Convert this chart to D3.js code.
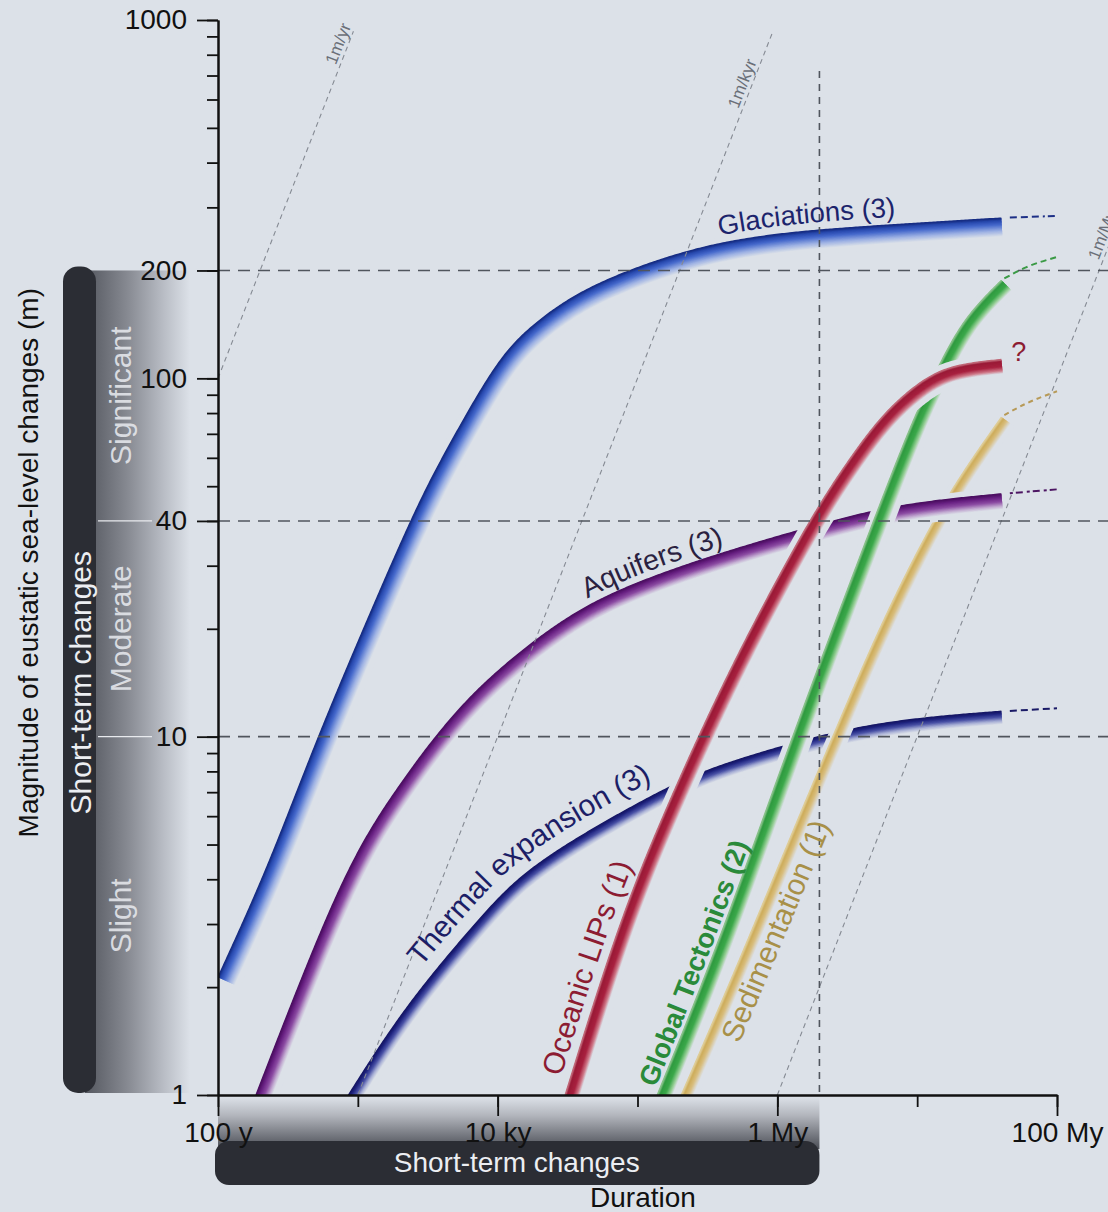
<!DOCTYPE html>
<html>
<head>
<meta charset="utf-8">
<title>Magnitude and duration of eustatic sea-level changes</title>
<script src="https://cdn.jsdelivr.net/npm/d3@7/dist/d3.min.js"></script>
<style>
  html, body { margin: 0; padding: 0; background: #dce1e8; }
  svg { display: block; font-family: "Liberation Sans", Arial, Helvetica, sans-serif; }
</style>
</head>
<body>
<svg id="chart" width="1108" height="1212"></svg>
<script>
// [duration (years), magnitude (m)] along the upper edge of each band
const glaciations = [[100, 2.13], [228, 4.3], [494, 9.6], [1327, 23.8], [2786, 46.1], [4800, 68.2], [9900, 112], [17050, 140], [43600, 182], [226000, 229], [671000, 248], [2.02e6, 261], [4.0e7, 280]];
const aquifers = [[187, 1.0], [519, 2.79], [1054, 5.1], [2176, 7.7], [3566, 10.0], [7480, 14.0], [26600, 20.9], [75100, 26.0], [347000, 32.1], [1.8e6, 38.7], [7.2e6, 44.6], [4.0e7, 47.6]];
const thermalExpansion = [[851, 1.0], [2176, 1.78], [7240, 3.09], [14450, 4.14], [43600, 5.46], [152400, 7.14], [315000, 8.13], [997000, 9.36], [3.32e6, 10.6], [1.1e7, 11.35], [4.0e7, 11.8]];
const oceanicLIPs = [[30300, 1.0], [75100, 3.14], [162800, 6.41], [266900, 9.88], [541900, 17.7], [1.66e6, 40], [3.16e6, 58.6], [5.44e6, 78.2], [9.36e6, 95.2], [1.64e7, 109], [4.0e7, 113]];
const globalTectonics = [[1.38e5, 1.0], [3.9e5, 2.71], [1.24e6, 9.79], [4.84e6, 40], [9.36e6, 77.5], [1.46e7, 111], [2.2e7, 149], [4.0e7, 188]];
const sedimentation = [[2.05e5, 1.0], [5.15e5, 2.29], [1.39e6, 5.86], [2.59e6, 10.4], [5.43e6, 20.5], [1.24e7, 39], [2.2e7, 56.2], [4.0e7, 78]];

// Speculative continuation beyond ~40 My (dashed)
const glaciationsTrend = [[4.6e7, 281], [1e8, 284]];
const aquifersTrend = [[4.6e7, 47.8], [1e8, 49]];
const thermalTrend = [[4.6e7, 11.8], [1e8, 12.0]];
const tectonicsTrend = [[4.2e7, 190], [6.0e7, 204], [1e8, 218]];
const sedimentationTrend = [[4.2e7, 79], [6.0e7, 85], [1e8, 92]];

// Constant-rate reference lines (m per year)
const rates = [1, 1e-3, 1e-6];
const rateLabels = ["1m/yr", "1m/kyr", "1m/Myr"];
const rateLabelMagnitude = [840, 650, 250];

// Thresholds of the short-term domain
const guideMagnitudes = [10, 40, 200];
const guideDuration = 2e6;

// Axis ticks
const yTickValues = [1, 10, 40, 100, 200, 1000];
const xTickValues = [1e2, 1e4, 1e6, 1e8];
const xTickLabels = ["100 y", "10 ky", "1 My", "100 My"];

// Severity classes on the magnitude axis: [label, lower m, upper m]
const severityBands = [["Significant", 40, 200], ["Moderate", 10, 40], ["Slight", 1, 10]];

const BG = "#dce1e8";
const svg = d3.select("#chart");
const defs = svg.append("defs");

const x = d3.scaleLog().domain([1e2, 1e8]).range([218, 1057]);
const y = d3.scaleLog().domain([1, 1000]).range([1095, 20]);

svg.append("rect").attr("width", 1108).attr("height", 1212).attr("fill", BG);

defs.append("clipPath").attr("id", "plot-clip")
  .append("rect").attr("x", x(1e2)).attr("y", 0)
  .attr("width", 1108 - x(1e2)).attr("height", y(1));

// ---- "Short-term changes" bar along the magnitude axis
const gRight = defs.append("linearGradient").attr("id", "fade-right")
  .attr("x1", 0).attr("x2", 1).attr("y1", 0).attr("y2", 0);
[[0, "#54575f"], [0.4, "#868991"], [0.75, "#b9bdc5"], [1, BG]].forEach(s =>
  gRight.append("stop").attr("offset", s[0]).attr("stop-color", s[1]));
svg.append("rect").attr("x", 85).attr("y", y(200))
  .attr("width", 105).attr("height", y(1) - y(200) - 2)
  .attr("fill", "url(#fade-right)");
svg.append("rect").attr("x", 63).attr("y", y(200) - 4)
  .attr("width", 33).attr("height", y(1) - y(200) + 2)
  .attr("rx", 15).attr("fill", "#2b2d34");

svg.append("text")
  .attr("transform", `translate(80,${(y(200) + y(1)) / 2}) rotate(-90)`)
  .attr("text-anchor", "middle").attr("dominant-baseline", "central")
  .attr("font-size", 30).attr("fill", "#eceef2").text("Short-term changes");

severityBands.forEach(([label, lo, hi]) => {
  const cy = y(Math.sqrt(lo * hi));
  svg.append("text")
    .attr("transform", `translate(120,${cy}) rotate(-90)`)
    .attr("text-anchor", "middle").attr("dominant-baseline", "central")
    .attr("font-size", 30).attr("fill", "#e3e5ea").attr("fill-opacity", 0.92)
    .text(label);
});
[40, 10].forEach(m => svg.append("line")
  .attr("x1", 98).attr("x2", 152).attr("y1", y(m)).attr("y2", y(m))
  .attr("stroke", "#e8eaee").attr("stroke-width", 1.2));

// ---- "Short-term changes" bar along the duration axis
const gDown = defs.append("linearGradient").attr("id", "fade-down")
  .attr("x1", 0).attr("x2", 0).attr("y1", 0).attr("y2", 1);
[[0, BG], [0.35, "#b3b6bd"], [1, "#4b4e56"]].forEach(s =>
  gDown.append("stop").attr("offset", s[0]).attr("stop-color", s[1]));
svg.append("rect").attr("x", x(1e2)).attr("y", y(1) + 2)
  .attr("width", x(guideDuration) - x(1e2)).attr("height", 52)
  .attr("fill", "url(#fade-down)");
svg.append("rect").attr("x", x(1e2) - 3).attr("y", 1141)
  .attr("width", x(guideDuration) - x(1e2) + 3).attr("height", 44)
  .attr("rx", 14).attr("fill", "#2b2d34");
svg.append("text").attr("x", (x(1e2) + x(guideDuration)) / 2 - 2).attr("y", 1172)
  .attr("text-anchor", "middle").attr("font-size", 28).attr("fill", "#eceef2")
  .text("Short-term changes");

// ---- Shaded bands: sampled along the curve and offset along its normal
function samplePath(pts) {
  const tmp = svg.append("path").attr("d", d3.line().curve(d3.curveBasis)(pts));
  const node = tmp.node(), L = node.getTotalLength();
  const n = Math.max(2, Math.ceil(L / 2));
  const s = d3.range(n + 1).map(i => {
    const p = node.getPointAtLength(L * i / n);
    return [p.x, p.y];
  });
  tmp.remove();
  return s;
}
function normals(s) {
  return s.map((p, i) => {
    const a = s[Math.max(0, i - 2)], b = s[Math.min(s.length - 1, i + 2)];
    const dx = b[0] - a[0], dy = b[1] - a[1];
    const len = Math.hypot(dx, dy) || 1;
    return [-dy / len, dx / len];
  });
}
function offset(s, nrm, k) {
  return s.map((p, i) => [p[0] + nrm[i][0] * k, p[1] + nrm[i][1] * k]);
}

const ribbonStyles = {
  thermal:     { width: 13, gap: 6, stops: [[0, "#141461"], [0.18, "#1f2480"], [0.45, "#4a52a6"], [0.75, "#a9b0d6"], [1, BG]] },
  sed:         { width: 11, gap: 5, stops: [[0, "#e0cf9c"], [0.2, "#cdac5a"], [0.55, "#d8bd7c"], [1, BG]] },
  aquifers:    { width: 15, gap: 6, stops: [[0, "#4c0f62"], [0.2, "#682082"], [0.5, "#8b4ba2"], [0.8, "#c3acd2"], [1, BG]] },
  tectonics:   { width: 14, gap: 6, stops: [[0, "#8fc48f"], [0.15, "#2f9a40"], [0.5, "#3ba84a"], [0.8, "#98cf98"], [1, BG]] },
  lips:        { width: 14, gap: 6, stops: [[0, "#c4707f"], [0.12, "#991a37"], [0.5, "#a8213f"], [0.8, "#cf7a8a"], [1, BG]] },
  glaciations: { width: 18, gap: 6, stops: [[0, "#172d84"], [0.12, "#2748ad"], [0.35, "#4669cc"], [0.7, "#9fb3e4"], [1, BG]] }
};

const plot = svg.append("g").attr("clip-path", "url(#plot-clip)");
function drawRibbon(data, st) {
  const s = samplePath(data.map(d => [x(d[0]), y(d[1])]));
  const nrm = normals(s);
  const line = d3.line();
  plot.append("path").attr("d", line(offset(s, nrm, st.width / 2)))
    .attr("fill", "none").attr("stroke", BG)
    .attr("stroke-width", st.width + 2 * st.gap);
  const color = d3.scaleLinear()
    .domain(st.stops.map(d => d[0])).range(st.stops.map(d => d[1]))
    .interpolate(d3.interpolateRgb);
  for (let k = st.width; k >= 0; k -= 0.6) {
    plot.append("path").attr("d", line(offset(s, nrm, k)))
      .attr("fill", "none").attr("stroke", color(k / st.width))
      .attr("stroke-width", 1.4);
  }
  return { s, nrm };
}

const bands = {};
bands.thermal = drawRibbon(thermalExpansion, ribbonStyles.thermal);
bands.sed = drawRibbon(sedimentation, ribbonStyles.sed);
bands.aquifers = drawRibbon(aquifers, ribbonStyles.aquifers);
bands.tectonics = drawRibbon(globalTectonics, ribbonStyles.tectonics);
bands.lips = drawRibbon(oceanicLIPs, ribbonStyles.lips);
bands.glaciations = drawRibbon(glaciations, ribbonStyles.glaciations);

// ---- Dashed continuations
const trendLine = d3.line().x(d => x(d[0])).y(d => y(d[1])).curve(d3.curveMonotoneX);
[[glaciationsTrend, "#1d2f86", "7,4,7,4,7,4,2,3"], [aquifersTrend, "#4c1562", "3,3,7,4"],
 [thermalTrend, "#1a1a66", "7,4"], [tectonicsTrend, "#3a9a45", "6,4"],
 [sedimentationTrend, "#b79a58", "5,4"]].forEach(([data, c, dash]) =>
  svg.append("path").attr("d", trendLine(data)).attr("fill", "none")
    .attr("stroke", c).attr("stroke-width", 2).attr("stroke-dasharray", dash));

// ---- Constant-rate reference lines
const rateGroup = svg.append("g");
const slope = Math.atan2(y(10) - y(1), x(10) - x(1));
rates.forEach((r, i) => {
  const d0 = Math.max(1e2, 1 / r), d1 = 930 / r;
  rateGroup.append("line")
    .attr("x1", x(d0)).attr("y1", y(d0 * r)).attr("x2", x(d1)).attr("y2", y(d1 * r))
    .attr("stroke", "#858a93").attr("stroke-width", 1.1).attr("stroke-dasharray", "5,4");
  const m = rateLabelMagnitude[i];
  const px = x(m / r) + Math.sin(slope) * 4, py = y(m) - Math.cos(slope) * 4;
  rateGroup.append("text")
    .attr("transform", `translate(${px},${py}) rotate(${slope * 180 / Math.PI})`)
    .attr("text-anchor", "middle").attr("font-size", 17).attr("fill", "#6a6f78")
    .text(rateLabels[i]);
});

// ---- Threshold guides
const guides = svg.append("g").attr("stroke", "#50555d").attr("stroke-width", 1.6).attr("fill", "none");
guideMagnitudes.forEach(m => guides.append("line")
  .attr("x1", x(1e2)).attr("x2", 1108).attr("y1", y(m)).attr("y2", y(m))
  .attr("stroke-dasharray", "12,8"));
guides.append("line")
  .attr("x1", x(guideDuration)).attr("x2", x(guideDuration))
  .attr("y1", y(720)).attr("y2", y(1)).attr("stroke-dasharray", "7,6");

// ---- Axes
const yMinor = [];
for (let e = 0; e < 3; e++) for (let k = 1; k <= 9; k++) yMinor.push(k * Math.pow(10, e));
yMinor.push(1000);
const xMinor = d3.range(2, 9).map(e => Math.pow(10, e));

function styleAxis(g) {
  g.selectAll(".domain").attr("stroke", "#111").attr("stroke-width", 2);
  g.selectAll(".tick line").attr("stroke", "#111").attr("stroke-width", 1.8);
  g.selectAll("text").attr("fill", "#111").attr("font-size", 28)
    .attr("font-family", "'Liberation Sans', Arial, Helvetica, sans-serif");
}
const yAxisMinor = svg.append("g").attr("transform", `translate(${x(1e2)},0)`)
  .call(d3.axisLeft(y).tickValues(yMinor).tickSize(11).tickSizeOuter(0).tickFormat(""));
styleAxis(yAxisMinor);
const yAxis = svg.append("g").attr("transform", `translate(${x(1e2)},0)`)
  .call(d3.axisLeft(y).tickValues(yTickValues).tickSize(21).tickSizeOuter(0)
    .tickPadding(10).tickFormat(d3.format("d")));
styleAxis(yAxis);

const xAxisMinor = svg.append("g").attr("transform", `translate(0,${y(1)})`)
  .call(d3.axisBottom(x).tickValues(xMinor).tickSize(12).tickSizeOuter(0).tickFormat(""));
styleAxis(xAxisMinor);
const xAxis = svg.append("g").attr("transform", `translate(0,${y(1)})`)
  .call(d3.axisBottom(x).tickValues(xTickValues).tickSize(21).tickSizeOuter(0)
    .tickPadding(6).tickFormat((d, i) => xTickLabels[i]));
styleAxis(xAxis);

// ---- Band labels following their curves (negative offset: upper-left side)
function labelAlong(band, text, startD, off, size, color, weight, id) {
  const pts = offset(band.s, band.nrm, off);
  defs.append("path").attr("id", id).attr("d", d3.line()(pts));
  const sx = x(startD);
  let len = 0;
  for (let i = 1; i < pts.length && band.s[i][0] < sx; i++) {
    len += Math.hypot(pts[i][0] - pts[i - 1][0], pts[i][1] - pts[i - 1][1]);
  }
  svg.append("text").attr("font-size", size).attr("fill", color)
    .attr("font-weight", weight)
    .append("textPath").attr("href", "#" + id).attr("startOffset", len).text(text);
}
labelAlong(bands.glaciations, "Glaciations (3)", 4.03e5, -8, 27.5, "#1c246c", "normal", "lbl-glac");
labelAlong(bands.aquifers, "Aquifers (3)", 4.73e4, -7, 28.5, "#2a2140", "normal", "lbl-aqui");
labelAlong(bands.thermal, "Thermal expansion (3)", 3400, -13, 30, "#1c1e66", "normal", "lbl-therm");
labelAlong(bands.lips, "Oceanic LIPs (1)", 3.3e4, -9, 30, "#8c1c32", "normal", "lbl-lips");
labelAlong(bands.tectonics, "Global Tectonics (2)", 1.45e5, -4, 27.5, "#2a8a3a", "bold", "lbl-tect");
labelAlong(bands.sed, "Sedimentation (1)", 3.25e5, 33, 30, "#a89048", "normal", "lbl-sed");

// Uncertain end of the LIP curve
const lipsEnd = oceanicLIPs[oceanicLIPs.length - 1];
svg.append("text").attr("x", x(lipsEnd[0]) + 10).attr("y", y(lipsEnd[1]) + 2)
  .attr("font-size", 27).attr("fill", "#8c1c32").text("?");

// ---- Axis titles
svg.append("text")
  .attr("transform", `translate(28,${(y(1) + y(200)) / 2 - 120}) rotate(-90)`)
  .attr("text-anchor", "middle").attr("dominant-baseline", "central")
  .attr("font-size", 28).attr("fill", "#111")
  .text("Magnitude of eustatic sea-level changes (m)");
svg.append("text").attr("x", 643).attr("y", 1207)
  .attr("text-anchor", "middle").attr("font-size", 28).attr("fill", "#111")
  .text("Duration");
</script>
</body>
</html>
